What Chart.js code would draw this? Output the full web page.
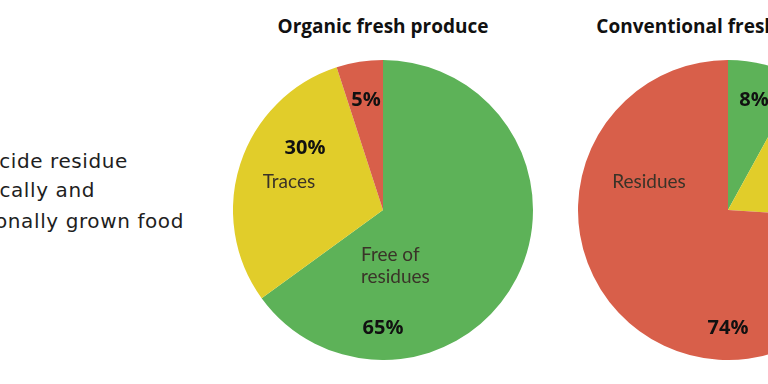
<!DOCTYPE html>
<html>
<head>
<meta charset="utf-8">
<script src="https://cdn.jsdelivr.net/npm/chart.js@4/dist/chart.umd.min.js"></script>
<style>
  html, body { margin: 0; padding: 0; background: #fff; width: 768px; height: 384px; overflow: hidden; position: relative; }
  .line { position: absolute; white-space: nowrap; text-align: right; font-family: "DejaVu Sans", sans-serif; font-size: 20px; letter-spacing: 0.6px; color: #1e1e1e; line-height: 24px; }
  .title { position: absolute; white-space: nowrap; text-align: center; font-family: "Open Sans", sans-serif; font-weight: 700; font-size: 19px; color: #111; line-height: 24px; width: 400px; }
  .pie { position: absolute; width: 300px; height: 300px; }
</style>
</head>
<body>
<div class="line" style="right:640px; top:149px;">Pesticide residue</div>
<div class="line" style="right:673px; top:178px;">in organically and</div>
<div class="line" style="right:584px; top:209px;">conventionally grown food</div>

<div class="title" style="left:183px; top:14px;">Organic fresh produce</div>
<div class="title" style="left:528px; top:14px;">Conventional fresh produce</div>

<div class="pie" style="left:233px; top:60px;"><canvas id="c1" width="300" height="300"></canvas></div>
<div class="pie" style="left:578px; top:60px;"><canvas id="c2" width="300" height="300"></canvas></div>

<script>
const categories = ["Free of residues", "Traces", "Residues"];
const organicValues = [65, 30, 5];
const conventionalValues = [8, 18, 74];
const sliceColors = ["#5db258", "#e1cd2a", "#d85f4a"];

const organicLabels = [
  { text: "5%", bold: true, dx: -0.113, dy: -0.733 },
  { text: "30%", bold: true, dx: -0.52, dy: -0.413 },
  { text: "Traces", bold: false, dx: -0.627, dy: -0.187 },
  { text: "Free of", bold: false, dx: -0.147, dy: 0.30, align: "left" },
  { text: "residues", bold: false, dx: -0.147, dy: 0.447, align: "left" },
  { text: "65%", bold: true, dx: 0, dy: 0.787 }
];
const conventionalLabels = [
  { text: "8%", bold: true, dx: 0.173, dy: -0.733 },
  { text: "Residues", bold: false, dx: -0.527, dy: -0.187 },
  { text: "74%", bold: true, dx: 0, dy: 0.787 }
];

const sliceText = {
  id: "sliceText",
  afterDatasetsDraw(chart, args, opts) {
    const arc = chart.getDatasetMeta(0).data[0];
    if (!arc) return;
    const { x, y, outerRadius } = arc.getProps(["x", "y", "outerRadius"], true);
    const ctx = chart.ctx;
    ctx.save();
    ctx.textBaseline = "middle";
    (opts.items || []).forEach(it => {
      ctx.font = it.bold ? "700 20px 'Open Sans', sans-serif" : "400 19px Lato, sans-serif";
      ctx.fillStyle = it.bold ? "#111" : "#3a3328";
      ctx.textAlign = it.align || "center";
      ctx.fillText(it.text, x + it.dx * outerRadius, y + it.dy * outerRadius);
    });
    ctx.restore();
  }
};

function makePie(id, values, items) {
  new Chart(document.getElementById(id), {
    type: "pie",
    data: {
      labels: categories,
      datasets: [{ data: values, backgroundColor: sliceColors, borderWidth: 0 }]
    },
    options: {
      responsive: false,
      animation: false,
      layout: { padding: 0 },
      plugins: {
        legend: { display: false },
        tooltip: { enabled: false },
        sliceText: { items }
      }
    },
    plugins: [sliceText]
  });
}

makePie("c1", organicValues, organicLabels);
makePie("c2", conventionalValues, conventionalLabels);
</script>
</body>
</html>
